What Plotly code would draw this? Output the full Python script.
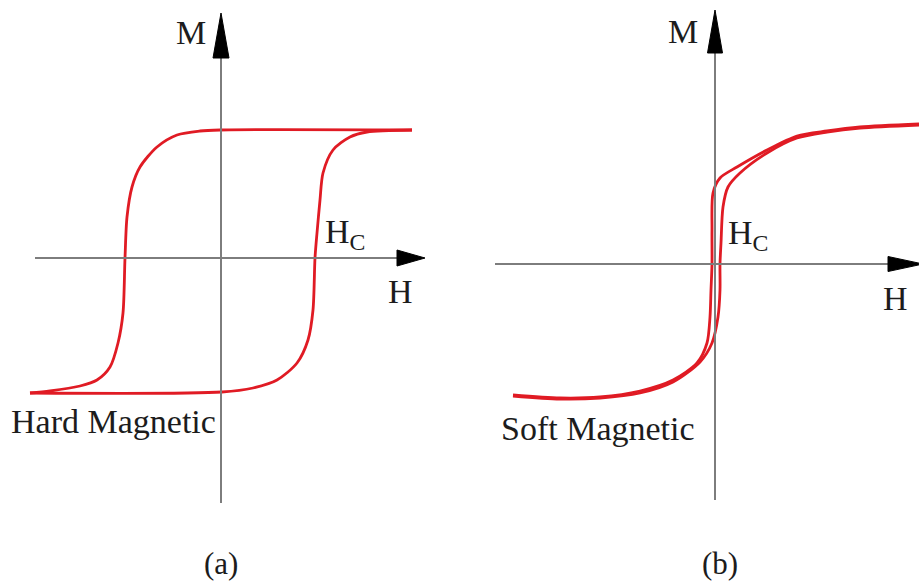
import plotly.graph_objects as go

# Hysteresis loops (arbitrary units: H field, M magnetisation)
# (a) hard magnetic material
hard_down_H = [1.91, -0.01, -0.21, -0.44, -0.64, -0.81, -0.89, -0.94, -0.96, -0.98, -1.03, -1.11, -1.24, -1.41, -1.71, -1.91]
hard_down_M = [1.28, 1.28, 1.27, 1.23, 1.11, 0.91, 0.71, 0.41, 0.0, -0.55, -0.85, -1.09, -1.22, -1.28, -1.33, -1.35]
hard_up_H = [-1.91, 0.01, 0.32, 0.56, 0.76, 0.87, 0.92, 0.94, 0.96, 0.99, 1.02, 1.12, 1.29, 1.46, 1.91]
hard_up_M = [-1.35, -1.34, -1.30, -1.22, -1.05, -0.82, -0.52, 0.0, 0.25, 0.58, 0.85, 1.08, 1.21, 1.26, 1.28]

# (b) soft magnetic material
soft_down_H = [2.04, 1.45, 1.12, 0.82, 0.52, 0.22, 0.05, -0.02, -0.03, -0.03, -0.04, -0.05, -0.08, -0.18, -0.42, -0.75, -1.15, -1.55, -2.02]
soft_down_M = [1.40, 1.37, 1.33, 1.28, 1.14, 0.97, 0.86, 0.71, 0.34, 0.0, -0.26, -0.53, -0.79, -0.99, -1.16, -1.27, -1.33, -1.34, -1.31]
soft_up_H = [-2.02, -1.55, -1.15, -0.75, -0.42, -0.15, -0.03, 0.03, 0.05, 0.05, 0.06, 0.08, 0.13, 0.25, 0.52, 0.82, 1.12, 1.45, 2.04]
soft_up_M = [-1.32, -1.35, -1.34, -1.29, -1.18, -0.98, -0.79, -0.53, -0.26, 0.0, 0.21, 0.57, 0.77, 0.91, 1.11, 1.26, 1.32, 1.36, 1.39]

RED = "#e01b24"
AXIS_GRAY = "#7d7d7d"
FONT = "Liberation Serif, Times New Roman, serif"
TEXT = "#1c1c1c"

fig = go.Figure()

for H, M, xa, ya in [
    (hard_down_H, hard_down_M, "x", "y"),
    (hard_up_H, hard_up_M, "x", "y"),
    (soft_down_H, soft_down_M, "x2", "y2"),
    (soft_up_H, soft_up_M, "x2", "y2"),
]:
    fig.add_trace(go.Scatter(x=H, y=M, xaxis=xa, yaxis=ya, mode="lines",
                             line=dict(color=RED, width=2.8, shape="spline", smoothing=0.8),
                             hoverinfo="skip", showlegend=False))

shapes = []
annotations = []


def draw_axes(xref, yref, h_left, h_base, h_tip, m_bottom, m_base, m_tip, hw=0.08):
    # axis lines
    shapes.append(dict(type="line", xref=xref, yref=yref, x0=h_left, x1=h_base, y0=0, y1=0,
                       line=dict(color=AXIS_GRAY, width=2)))
    shapes.append(dict(type="line", xref=xref, yref=yref, x0=0, x1=0, y0=m_bottom, y1=m_base,
                       line=dict(color=AXIS_GRAY, width=2)))
    # arrow heads
    shapes.append(dict(type="path", xref=xref, yref=yref,
                       path=f"M {h_base},{-hw} L {h_tip},0 L {h_base},{hw} Z",
                       fillcolor="black", line=dict(color="black", width=1)))
    shapes.append(dict(type="path", xref=xref, yref=yref,
                       path=f"M {-hw},{m_base} L 0,{m_tip} L {hw},{m_base} Z",
                       fillcolor="black", line=dict(color="black", width=1)))


draw_axes("x", "y", -1.86, 1.76, 2.04, -2.45, 2.00, 2.45)
draw_axes("x2", "y2", -2.20, 1.73, 2.08, -2.36, 2.11, 2.54, hw=0.075)


def label(xref, yref, x, y, text, size=34, xanchor="center"):
    annotations.append(dict(xref=xref, yref=yref, x=x, y=y, text=text, showarrow=False,
                            xanchor=xanchor, yanchor="middle",
                            font=dict(family=FONT, size=size, color=TEXT)))


label("x", "y", -0.30, 2.26, "M")
label("x", "y", 1.79, -0.33, "H")
label("x", "y", 1.02, 0.24, "H<sub>C</sub>", xanchor="left")
label("x", "y", -2.12, -1.63, "Hard Magnetic", xanchor="left")
label("x", "y", 0.0, -3.05, "(a)", size=31)

label("x2", "y2", -0.32, 2.33, "M")
label("x2", "y2", 1.80, -0.34, "H")
label("x2", "y2", 0.11, 0.29, "H<sub>C</sub>", xanchor="left")
label("x2", "y2", -2.16, -1.64, "Soft Magnetic", xanchor="left")
label("x2", "y2", 0.05, -2.99, "(b)", size=31)

ax = dict(visible=False, showgrid=False, zeroline=False, fixedrange=True)
fig.update_layout(
    width=919, height=584,
    margin=dict(l=0, r=0, t=0, b=0),
    paper_bgcolor="white", plot_bgcolor="white",
    xaxis=dict(domain=[0, 460 / 919], range=[-2.21, 2.39], **ax),
    yaxis=dict(domain=[0, 1], range=[-3.26, 2.58], **ax),
    xaxis2=dict(domain=[460 / 919, 1], range=[-2.55, 2.04], anchor="y2", **ax),
    yaxis2=dict(domain=[0, 1], range=[-3.20, 2.64], anchor="x2", **ax),
    shapes=shapes,
    annotations=annotations,
)

# page body margin off so the figure fills the window
fig.write_html("out.html", config={"displayModeBar": False},
               post_script="document.body.style.margin='0';document.body.style.overflow='hidden';")
